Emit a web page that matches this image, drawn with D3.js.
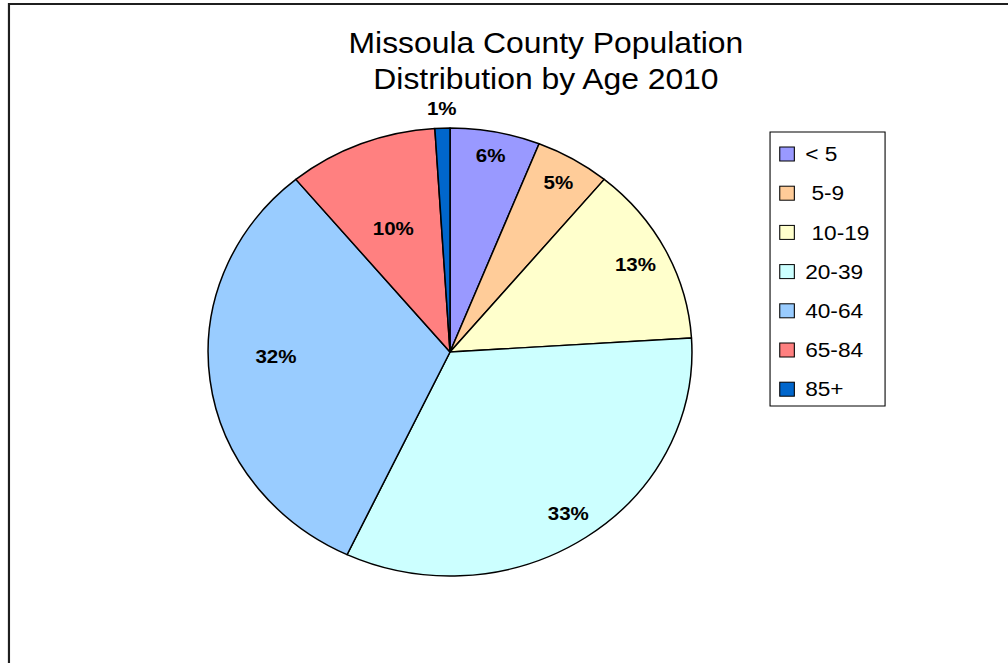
<!DOCTYPE html>
<html>
<head>
<meta charset="utf-8">
<script src="https://cdn.jsdelivr.net/npm/d3@7"></script>
<style>
  html, body { margin: 0; padding: 0; background: #fff; }
  svg { display: block; }
  text { font-family: "Liberation Sans", Arial, Helvetica, sans-serif; }
</style>
</head>
<body>
<svg id="chart" width="1008" height="663"></svg>
<script>
// Age groups and their share of the population (percent)
const categories = ["< 5", " 5-9", " 10-19", "20-39", "40-64", "65-84", "85+"];
const shares = [6, 5, 13, 33, 32, 10, 1];
const sliceColors = ["#9999FF", "#FFCC99", "#FFFFCC", "#CCFFFF", "#99CCFF", "#FF8080", "#0066CC"];
const titleLines = ["Missoula County Population", "Distribution by Age 2010"];

// Layout (drawing space is stretched horizontally to give the wide pie)
const W = 1008, H = 663;
const stretchX = 1.08;
const cx = 416.7, cy = 352, radius = 224;
// percentage label placement: radius fraction and angular nudge (degrees)
const labelRadius = [0.895, 0.88, 0.86, 0.87, 0.72, 0.60, 1.09];
const labelNudge = [0, 0, 0, 0, 5.8, -1.4, 0];

const svg = d3.select("#chart");
const g = svg.append("g").attr("transform", `scale(${stretchX},1)`);

// chart frame
g.append("rect")
  .attr("x", 8.3).attr("y", 4)
  .attr("width", 1000).attr("height", 700)
  .attr("fill", "none")
  .attr("stroke", "#1f1f1f")
  .attr("stroke-width", 2);

// title
const titleX = 505.5;
g.append("text")
  .attr("x", titleX).attr("y", 53.5)
  .attr("text-anchor", "middle")
  .attr("font-size", 29.5)
  .attr("fill", "#000")
  .selectAll("tspan")
  .data(titleLines)
  .join("tspan")
  .attr("x", titleX)
  .attr("dy", (d, i) => i === 0 ? 0 : 36)
  .text(d => d);

// pie
const data = categories.map((c, i) => ({
  label: c, value: shares[i], color: sliceColors[i],
  lr: labelRadius[i], nudge: labelNudge[i] * Math.PI / 180
}));
const pie = d3.pie().value(d => d.value).sort(null);
const arcs = pie(data);
const arc = d3.arc().innerRadius(0).outerRadius(radius);

const pieG = g.append("g").attr("transform", `translate(${cx},${cy})`);
pieG.selectAll("path")
  .data(arcs)
  .join("path")
  .attr("d", arc)
  .attr("fill", d => d.data.color)
  .attr("stroke", "#000")
  .attr("stroke-width", 1.4)
  .attr("stroke-linejoin", "round");

// percentage labels
const labelAngle = d => (d.startAngle + d.endAngle) / 2 + d.data.nudge;
pieG.selectAll("text.pct")
  .data(arcs)
  .join("text")
  .attr("class", "pct")
  .attr("x", d => Math.sin(labelAngle(d)) * radius * d.data.lr)
  .attr("y", d => -Math.cos(labelAngle(d)) * radius * d.data.lr)
  .attr("text-anchor", "middle")
  .attr("dominant-baseline", "central")
  .attr("font-size", 19)
  .attr("font-weight", "bold")
  .attr("fill", "#000")
  .text(d => d.data.value + "%");

// legend
const lgX = 713, lgY = 132, lgW = 106.5, lgH = 274;
const rowStep = 39.2, firstRow = 154;
const legend = g.append("g");
legend.append("rect")
  .attr("x", lgX).attr("y", lgY)
  .attr("width", lgW).attr("height", lgH)
  .attr("fill", "#fff")
  .attr("stroke", "#000")
  .attr("stroke-width", 1);

const rows = legend.selectAll("g.row")
  .data(data)
  .join("g")
  .attr("class", "row")
  .attr("transform", (d, i) => `translate(0,${firstRow + i * rowStep})`);

rows.append("rect")
  .attr("x", 722).attr("y", -7)
  .attr("width", 13.5).attr("height", 14)
  .attr("fill", d => d.color)
  .attr("stroke", "#000")
  .attr("stroke-width", 1);

rows.append("text")
  .attr("x", 745.5)
  .attr("y", 0)
  .attr("dominant-baseline", "central")
  .attr("font-size", 21)
  .attr("fill", "#000")
  .attr("xml:space", "preserve")
  .style("white-space", "pre")
  .text(d => d.label);
</script>
</body>
</html>
